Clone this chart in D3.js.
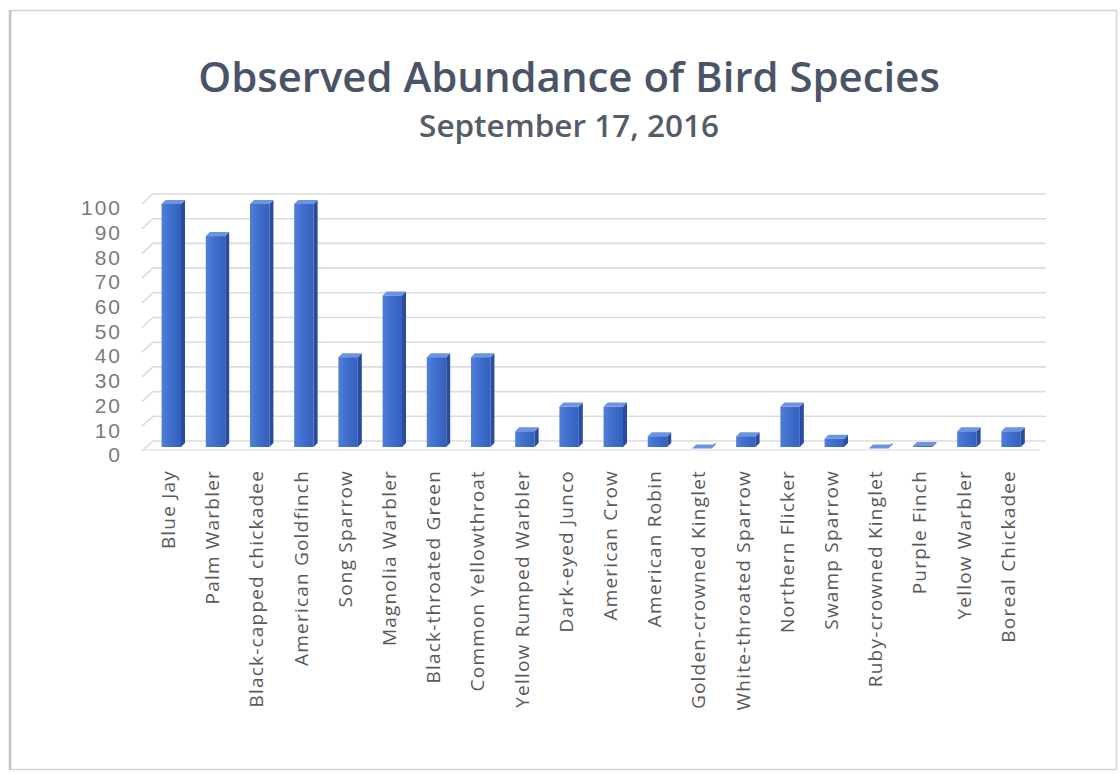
<!DOCTYPE html>
<html>
<head>
<meta charset="utf-8">
<script src="https://cdn.jsdelivr.net/npm/d3@7"></script>
<style>
  html, body { margin: 0; padding: 0; background: #ffffff; }
  svg { display: block; }
</style>
</head>
<body>
<svg id="chart" width="1120" height="774"></svg>
<script>
const categories = [
  "Blue Jay", "Palm Warbler", "Black-capped chickadee", "American Goldfinch",
  "Song Sparrow", "Magnolia Warbler", "Black-throated Green", "Common Yellowthroat",
  "Yellow Rumped Warbler", "Dark-eyed Junco", "American Crow", "American Robin",
  "Golden-crowned Kinglet", "White-throated Sparrow", "Northern Flicker", "Swamp Sparrow",
  "Ruby-crowned Kinglet", "Purple Finch", "Yellow Warbler", "Boreal Chickadee"
];
const counts = [100, 87, 100, 100, 38, 63, 38, 38, 8, 18, 18, 6, 1, 6, 18, 5, 1, 2, 8, 8];
const yTicks = [0, 10, 20, 30, 40, 50, 60, 70, 80, 90, 100];
const titleText = "Observed Abundance of Bird Species";
const subtitleText = "September 17, 2016";

const svg = d3.select("#chart");

// frame
svg.append("rect").attr("x", 10.5).attr("y", 10.5).attr("width", 1106).attr("height", 759)
  .attr("fill", "#ffffff").attr("stroke", "#d4d4d4").attr("stroke-width", 1.5);
svg.append("line").attr("x1", 10).attr("x2", 10).attr("y1", 10).attr("y2", 770)
  .attr("stroke", "#c4c4c4").attr("stroke-width", 2.5);

const x = d3.scaleBand().domain(categories).range([151.2, 1035.2])
  .paddingInner(0.47).paddingOuter(0.235);
const y = d3.scaleLinear().domain([0, 100]).range([447, 200]);

const depth = 4;
const back = 6;

// gridlines on back wall with left-wall stubs
const grid = svg.append("g");
yTicks.forEach(v => {
  const yy = y(v) - back;
  grid.append("path")
    .attr("d", `M142,${yy + 10} L153,${yy} L1046,${yy}`)
    .attr("fill", "none").attr("stroke", "#dcdcdc").attr("stroke-width", 1.6);
});
// floor front edge
svg.append("line").attr("x1", 142).attr("x2", 1040).attr("y1", y(0) + 3).attr("y2", y(0) + 3)
  .attr("stroke", "#e6e6e6").attr("stroke-width", 1.5);

// y axis labels
const yAxis = d3.axisLeft(y).tickValues(yTicks).tickSize(0).tickPadding(0);
const ya = svg.append("g").attr("transform", "translate(122,8)").call(yAxis);
ya.select(".domain").remove();
ya.selectAll("text")
  .attr("font-family", "'Liberation Sans', Arial, sans-serif")
  .attr("font-size", 21).attr("fill", "#7b7b7b").attr("letter-spacing", 2);

// gradient
const defs = svg.append("defs");
const g1 = defs.append("linearGradient").attr("id", "front").attr("x1", "0").attr("x2", "1").attr("y1", "0").attr("y2", "0");
g1.append("stop").attr("offset", "0%").attr("stop-color", "#4f80d8");
g1.append("stop").attr("offset", "35%").attr("stop-color", "#4271cf");
g1.append("stop").attr("offset", "100%").attr("stop-color", "#3460bd");

const bw = x.bandwidth();
const fw = bw - depth;
const bars = svg.append("g").selectAll("g").data(categories).join("g");
bars.each(function(c, i) {
  const g = d3.select(this);
  const x0 = x(c);
  const yt = y(counts[i]) + depth;
  const yb = y(0);
  // side
  g.append("path")
    .attr("d", `M${x0 + fw},${yt} L${x0 + fw + depth},${yt - depth} L${x0 + fw + depth},${yb - depth} L${x0 + fw},${yb} Z`)
    .attr("fill", "#2a4c9c");
  // front
  g.append("rect").attr("x", x0).attr("y", yt).attr("width", fw).attr("height", Math.max(0, yb - yt))
    .attr("fill", "url(#front)");
  // top
  g.append("path")
    .attr("d", `M${x0},${yt} L${x0 + depth},${yt - depth} L${x0 + fw + depth},${yt - depth} L${x0 + fw},${yt} Z`)
    .attr("fill", "#6b95e2");
});

// x labels
const xAxis = d3.axisBottom(x).tickSize(0).tickPadding(0);
const xa = svg.append("g").attr("transform", "translate(-5,470)").call(xAxis);
xa.select(".domain").remove();
xa.selectAll("text")
  .attr("transform", "rotate(-90)")
  .attr("text-anchor", "end")
  .attr("dy", "0.35em")
  .attr("x", 0).attr("y", 0)
  .attr("font-family", "'Open Sans', 'Liberation Sans', sans-serif")
  .attr("font-size", 19).attr("fill", "#5a5a5a").attr("letter-spacing", 1.2);

// titles
const title = svg.append("text").attr("x", 569).attr("y", 92).attr("text-anchor", "middle")
  .attr("font-family", "'Open Sans', sans-serif").attr("font-weight", 600)
  .attr("font-size", 38).attr("fill", "#4a5466").text(titleText);
let tl = title.node().getComputedTextLength();
title.attr("font-size", 38 * 742 / tl);

const sub = svg.append("text").attr("x", 569).attr("y", 137).attr("text-anchor", "middle")
  .attr("font-family", "'Open Sans', sans-serif").attr("font-weight", 600)
  .attr("font-size", 24).attr("fill", "#555c68").text(subtitleText);
let sl = sub.node().getComputedTextLength();
sub.attr("font-size", 24 * 300 / sl);
</script>
</body>
</html>
